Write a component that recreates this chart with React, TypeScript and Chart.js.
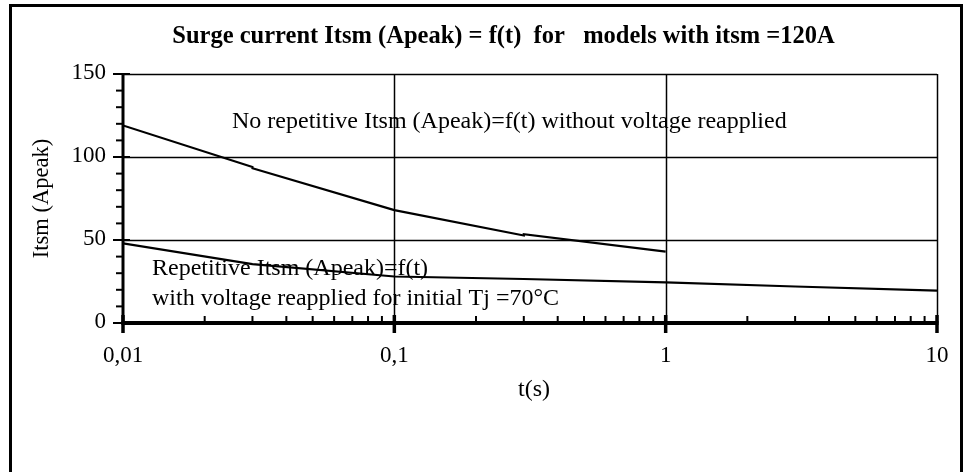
import React, { useEffect, useRef } from "react";
import { Chart, registerables } from "chart.js";

Chart.register(...registerables);

const upperT = [0.01, 0.03, 0.03, 0.1, 0.3, 0.3, 1];
const upperI = [119, 94, 93.2, 68, 52.7, 53.5, 43];
const lowerT = [0.01, 0.03, 0.1, 0.3, 1, 3, 10];
const lowerI = [48, 35.5, 28, 26.5, 24.5, 22, 19.5];
const yMajorTicks = [0, 50, 100, 150];
const xMajorTicks = [0.01, 0.1, 1, 10];
const xTickLabels = ["0,01", "0,1", "1", "10"];
const titleText = "Surge current Itsm (Apeak) = f(t)  for   models with itsm =120A";
const upperNote = "No repetitive Itsm (Apeak)=f(t) without voltage reapplied";
const lowerNote1 = "Repetitive Itsm (Apeak)=f(t)";
const lowerNote2 = "with voltage reapplied for initial Tj =70°C";
const xTitle = "t(s)";
const yTitle = "Itsm (Apeak)";

const SERIF = '"Liberation Serif", "Times New Roman", serif';

const decor = {
  id: "decor",
  beforeDatasetsDraw(chart: any) {
    const { ctx, chartArea: a, scales } = chart;
    const x = scales.x, y = scales.y;
    ctx.save();
    ctx.fillStyle = "#000";
    ctx.textBaseline = "alphabetic";
    ctx.textAlign = "left";
    ctx.font = `24px ${SERIF}`;
    ctx.fillText(upperNote, 232, 128);
    ctx.fillText(lowerNote1, 152, 275);
    ctx.fillText(lowerNote2, 152, 305);
    // grid
    ctx.strokeStyle = "#000";
    ctx.lineWidth = 1.5;
    for (const v of yMajorTicks) {
      if (v === 0) continue;
      const py = Math.round(y.getPixelForValue(v)) + 0.5;
      ctx.beginPath();
      ctx.moveTo(a.left, py);
      ctx.lineTo(a.right, py);
      ctx.stroke();
    }
    for (const v of xMajorTicks) {
      if (v === 0.01) continue;
      const px = Math.round(x.getPixelForValue(v)) + 0.5;
      ctx.beginPath();
      ctx.moveTo(px, a.top);
      ctx.lineTo(px, a.bottom);
      ctx.stroke();
    }
    ctx.restore();
  },
  afterDatasetsDraw(chart: any) {
    const { ctx, chartArea: a, scales } = chart;
    const x = scales.x, y = scales.y;
    ctx.save();
    ctx.strokeStyle = "#000";
    ctx.fillStyle = "#000";
    // axis lines
    ctx.lineWidth = 3;
    ctx.beginPath();
    ctx.moveTo(a.left, a.top);
    ctx.lineTo(a.left, a.bottom + 1.5);
    ctx.stroke();
    ctx.lineWidth = 4;
    ctx.beginPath();
    ctx.moveTo(a.left - 1.5, a.bottom);
    ctx.lineTo(a.right + 1.5, a.bottom);
    ctx.stroke();
    // y ticks
    ctx.lineWidth = 2;
    for (let v = 0; v <= 150; v += 10) {
      const py = y.getPixelForValue(v);
      const major = yMajorTicks.includes(v);
      ctx.beginPath();
      ctx.moveTo(a.left - (major ? 10 : 7), py);
      ctx.lineTo(a.left + (major ? 7 : 0), py);
      ctx.stroke();
    }
    // x ticks
    for (let d = 0.01; d < 10; d *= 10) {
      for (let m = 2; m <= 9; m++) {
        const px = x.getPixelForValue(d * m);
        ctx.lineWidth = 2;
        ctx.beginPath();
        ctx.moveTo(px, a.bottom);
        ctx.lineTo(px, a.bottom - 7);
        ctx.stroke();
      }
    }
    ctx.lineWidth = 3.5;
    for (const v of xMajorTicks) {
      const px = x.getPixelForValue(v);
      ctx.beginPath();
      ctx.moveTo(px, a.bottom - 8);
      ctx.lineTo(px, a.bottom + 10);
      ctx.stroke();
    }
    // tick labels
    ctx.font = `23px ${SERIF}`;
    ctx.textAlign = "right";
    ctx.textBaseline = "middle";
    for (const v of yMajorTicks) {
      ctx.fillText(String(v), a.left - 17, y.getPixelForValue(v) - 1);
    }
    ctx.textAlign = "center";
    ctx.textBaseline = "alphabetic";
    xMajorTicks.forEach((v, i) => {
      ctx.fillText(xTickLabels[i], x.getPixelForValue(v), 362);
    });
    ctx.font = `24px ${SERIF}`;
    ctx.fillText(xTitle, (a.left + a.right) / 2 + 4, 396);
    ctx.font = `22.5px ${SERIF}`;
    ctx.save();
    ctx.translate(48, (a.top + a.bottom) / 2);
    ctx.rotate(-Math.PI / 2);
    ctx.fillText(yTitle, 0, 0);
    ctx.restore();
    // title
    ctx.font = `bold 24.5px ${SERIF}`;
    ctx.fillText(titleText, 503.5, 43);
    // outer border
    ctx.lineWidth = 3;
    ctx.strokeRect(10.5, 5.5, 951, 480);
    ctx.restore();
  },
};

export default function App() {
  const ref = useRef<HTMLCanvasElement>(null);
  useEffect(() => {
    const canvas = ref.current!;
    const chart = new Chart(canvas, {
      type: "line",
      data: {
        datasets: [
          {
            data: upperT.map((t, i) => ({ x: t, y: upperI[i] })),
            borderColor: "#000",
            borderWidth: 2.2,
            pointRadius: 0,
            tension: 0,
          },
          {
            data: lowerT.map((t, i) => ({ x: t, y: lowerI[i] })),
            borderColor: "#000",
            borderWidth: 2.2,
            pointRadius: 0,
            tension: 0,
          },
        ],
      },
      options: {
        responsive: false,
        animation: false,
        devicePixelRatio: 1,
        layout: { padding: { left: 123, right: 32, top: 74, bottom: 149 } },
        scales: {
          x: { type: "logarithmic", min: 0.01, max: 10, display: false },
          y: { type: "linear", min: 0, max: 150, display: false },
        },
        plugins: { legend: { display: false }, tooltip: { enabled: false } },
      },
      plugins: [decor],
    });
    return () => chart.destroy();
  }, []);
  return (
    <div style={{ position: "fixed", left: 0, top: 0, width: 969, height: 472, background: "#fff" }}>
      <canvas ref={ref} width={969} height={472} />
    </div>
  );
}
